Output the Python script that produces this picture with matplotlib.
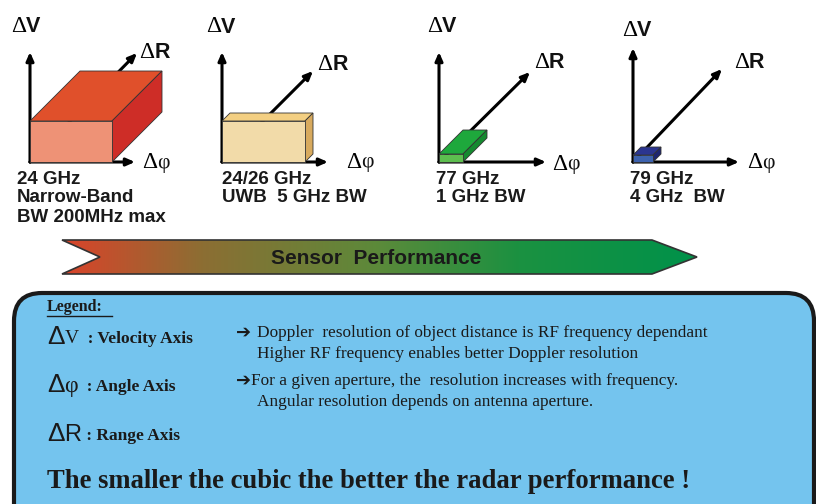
import numpy as np
import matplotlib
matplotlib.use("Agg")
import matplotlib.pyplot as plt
from matplotlib.patches import Polygon, Rectangle, FancyBboxPatch
from matplotlib.colors import LinearSegmentedColormap

# panel data: one entry per radar type
freq_lines = [["24 GHz", "Narrow-Band", "BW 200MHz max"],
              ["24/26 GHz", "UWB  5 GHz BW"],
              ["77 GHz", "1 GHz BW"],
              ["79 GHz", "4 GHz  BW"]]
box_w = [82, 83, 24, 20]     # angle extent
box_h = [41, 41, 8, 7]       # velocity extent
box_d = [50, 8, 24, 8]       # range extent
box_front = ["#EE9276", "#F2DBA9", "#5DBE4F", "#3D62AE"]
box_top = ["#E0502B", "#F3CF82", "#1EA83C", "#2B3590"]
box_side = ["#CE2D27", "#D8AA5E", "#158A30", "#1E2570"]

# layout of each panel (pixels)
origin_x = [30, 222, 439, 633]
origin_y = 162
v_top = [52, 52, 52, 48]
phi_tip = [135, 328, 546, 739]
r_tip = [(137, 53), (313, 71), (530, 72), (722, 69)]
lbl_v = [(11, 26), (206, 27), (427, 26), (622, 30)]
lbl_r = [(139, 52), (317, 64), (534, 62), (734, 62)]
lbl_phi = [(142, 163), (346, 162), (552, 164), (747, 163)]
txt_x = [17, 222, 436, 630]

legend_rows = [("\u0394", "V", "  : Velocity Axis", 337),
               ("\u0394", "\u03c6", "  : Angle Axis", 385),
               ("\u0394", "R", " : Range Axis", 434)]
legend_notes = [("\u2794 ", "Doppler  resolution of object distance is RF frequency dependant", 333),
                ("", "Higher RF frequency enables better Doppler resolution", 354),
                ("\u2794", "For a given aperture, the  resolution increases with frequency.", 381),
                ("", "Angular resolution depends on antenna aperture.", 402)]

fig = plt.figure(figsize=(8.16, 5.04), dpi=100)
ax = fig.add_axes([0, 0, 1, 1])
ax.set_axis_off()

SANS = ["Liberation Sans", "DejaVu Sans"]
SERIF = ["Liberation Serif", "DejaVu Serif", "DejaVu Sans"]
arrow_kw = dict(arrowstyle="-|>,head_length=0.5,head_width=0.22", color="black", lw=2.2,
                shrinkA=0, shrinkB=0)

for i in range(4):
    ox, oy = origin_x[i], origin_y
    # axes
    ax.annotate("", xy=r_tip[i], xytext=(ox, oy), arrowprops=arrow_kw, zorder=2)
    ax.annotate("", xy=(ox, v_top[i]), xytext=(ox, oy), arrowprops=arrow_kw, zorder=2)
    ax.annotate("", xy=(phi_tip[i], oy), xytext=(ox, oy), arrowprops=arrow_kw, zorder=2)
    # cube
    w, h, d = box_w[i], box_h[i], box_d[i]
    ax.add_patch(Polygon([(ox, oy - h), (ox + d, oy - h - d), (ox + w + d, oy - h - d), (ox + w, oy - h)],
                         closed=True, fc=box_top[i], ec="#333333", lw=0.6, zorder=3))
    ax.add_patch(Polygon([(ox + w, oy), (ox + w, oy - h), (ox + w + d, oy - h - d), (ox + w + d, oy - d)],
                         closed=True, fc=box_side[i], ec="#333333", lw=0.6, zorder=3))
    ax.add_patch(Rectangle((ox, oy - h), w, h, fc=box_front[i], ec="#333333", lw=0.6, zorder=4))
    # axis labels
    for (lx, ly), letter, fam, wt in [(lbl_v[i], "V", SANS, "bold"),
                                      (lbl_r[i], "R", SANS, "bold"),
                                      (lbl_phi[i], "\u03c6", SERIF, "normal")]:
        t = ax.text(lx, ly, "\u0394", fontsize=17, family=SERIF, ha="left", va="center")
        ax.annotate(letter, xy=(1, 0.47), xycoords=t, fontsize=15.5, family=fam, weight=wt,
                    ha="left", va="center", color="#111111")
    for k, line in enumerate(freq_lines[i]):
        ax.text(txt_x[i], 179 + 19 * k, line, fontsize=13.5, family=SANS, weight="bold",
                ha="left", va="center", color="#1a1a1a")

# performance arrow with gradient
arrow_pts = [(62, 240), (652, 240), (697, 257), (652, 274), (62, 274), (100, 257)]
grad_cmap = LinearSegmentedColormap.from_list(
    "perf", [(0, "#DA432A"), (0.22, "#8C6E33"), (0.5, "#5B8A3A"), (0.72, "#1B9141"), (1, "#00924A")])
img = ax.imshow(np.linspace(0, 1, 256)[None, :], cmap=grad_cmap, aspect="auto",
                extent=(62, 697, 274, 240), zorder=1)
arrow_patch = Polygon(arrow_pts, closed=True, fc="none", ec="#333333", lw=1.2, zorder=2)
ax.add_patch(arrow_patch)
img.set_clip_path(arrow_patch)
ax.text(376, 258, "Sensor  Performance", fontsize=15, family=SANS, weight="bold",
        ha="center", va="center", color="#1a1a1a", zorder=3)

# legend box
ax.add_patch(FancyBboxPatch((14, 293), 800, 260, boxstyle="round,pad=0,rounding_size=28",
                            fc="#74C4EE", ec="#1a1a1a", lw=3, zorder=1))
ax.text(47, 307, "Legend:", fontsize=11.5, family=SERIF, weight="bold", ha="left", va="center",
        color="#1a1a1a")
ax.plot([47, 112], [316, 316], color="#1a1a1a", lw=1)

letter_size = {"V": 14, "\u03c6": 17, "R": 17}
letter_fam = {"V": SERIF, "\u03c6": SERIF, "R": SANS}
for delta, letter, desc, y in legend_rows:
    t = ax.text(47, y, delta, fontsize=19, family=SANS, ha="left", va="center", color="#1a1a1a")
    t2 = ax.annotate(letter, xy=(1, 0.45), xycoords=t, fontsize=letter_size[letter],
                     family=letter_fam[letter], ha="left", va="center", color="#1a1a1a")
    ax.annotate(desc, xy=(1, 0.45), xycoords=t2, fontsize=12.5, family=SERIF, weight="bold",
                ha="left", va="center", color="#1a1a1a")

for arrow, note, y in legend_notes:
    if arrow:
        a = ax.text(236, y, arrow, fontsize=13, family=["DejaVu Sans"], weight="bold",
                    ha="left", va="center", color="#1a1a1a")
        ax.annotate(note, xy=(1, 0.5), xycoords=a, fontsize=12.4, family=SERIF,
                    ha="left", va="center", color="#1a1a1a")
    else:
        ax.text(257, y, note, fontsize=12.4, family=SERIF, ha="left", va="center", color="#1a1a1a")

ax.text(47, 482, "The smaller the cubic the better the radar performance !", fontsize=19.2,
        family=SERIF, weight="bold", ha="left", va="center", color="#1a1a1a")

ax.set_xlim(0, 816)
ax.set_ylim(504, 0)
fig.savefig("out.png", dpi=100, facecolor="white")
